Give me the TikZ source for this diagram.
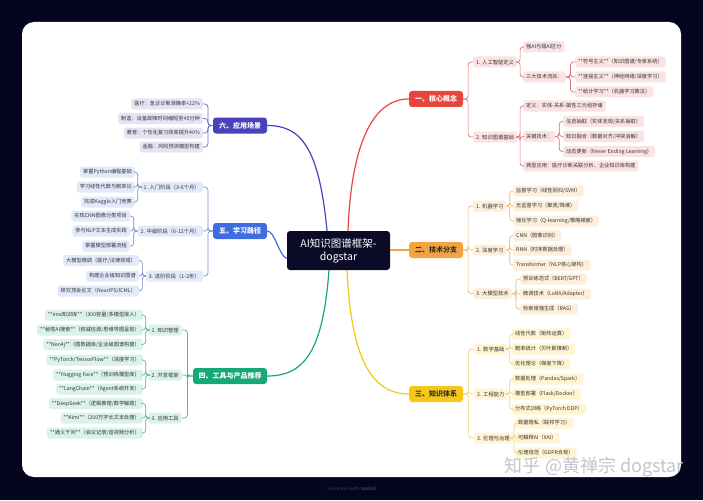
\documentclass[tikz,border=0pt]{standalone}
\usepackage{fontspec}
\setmainfont{Noto Sans CJK SC}
\usetikzlibrary{calc}
\definecolor{bgdark}{HTML}{05051E}
\definecolor{centerc}{HTML}{0B0B28}
\definecolor{txt}{HTML}{333333}
\definecolor{redm}{HTML}{E8453C}
\definecolor{redf}{HTML}{FBE3E3}
\definecolor{redl}{HTML}{E07070}
\definecolor{orm}{HTML}{F3A33F}
\definecolor{orf}{HTML}{FDEFDB}
\definecolor{orl}{HTML}{F2B870}
\definecolor{yem}{HTML}{F5C71A}
\definecolor{yef}{HTML}{FFF5D2}
\definecolor{yel}{HTML}{EDD672}
\definecolor{inm}{HTML}{4A41BC}
\definecolor{inf}{HTML}{E5E4F5}
\definecolor{inl}{HTML}{6C66B8}
\definecolor{blm}{HTML}{3F6DE0}
\definecolor{blf}{HTML}{E2E9FA}
\definecolor{bll}{HTML}{7F8CC8}
\definecolor{grm}{HTML}{17A878}
\definecolor{grf}{HTML}{DBF2E8}
\definecolor{grl}{HTML}{4DBB95}
\definecolor{wmark}{HTML}{C4C4CC}
\definecolor{foot}{HTML}{3C3C60}
\newcommand\linkR[3][]{\draw[#1] (#2.east) -- ($(#2.east)!0.5!(#2.east -| #3.west)$) |- (#3.west);}
\newcommand\linkL[3][]{\draw[#1] (#2.west) -- ($(#2.west)!0.5!(#2.west -| #3.east)$) |- (#3.east);}
\begin{document}
\begin{tikzpicture}[x=1pt,y=-1pt,
  lf/.style={font=\fontsize{5.2}{6}\selectfont, inner xsep=3pt, inner ysep=0pt, minimum height=11pt, rounded corners=2.5pt, text=txt},
  lv/.style={lf, font=\fontsize{5.3}{6}\selectfont},
  mainbox/.style={font=\fontsize{7}{8}\selectfont\bfseries, minimum height=16pt, minimum width=54pt, rounded corners=3pt, inner xsep=3pt},
  con/.style={line width=0.7pt, rounded corners=3pt},
  trunk/.style={line width=1.2pt}
]
\useasboundingbox (0,0) rectangle (703,500);
\fill[bgdark] (0,0) rectangle (703,500);
\fill[white, rounded corners=12pt] (22,22) rectangle (681,477);

% center
\node[fill=centerc, text=white, rounded corners=3pt, minimum width=103pt, minimum height=39pt, align=center, font=\fontsize{10.5}{13}\selectfont] (C) at (338.5,250.5) {AI知识图谱框架-\\dogstar};

% main branches
\node[mainbox, fill=redm, text=white] (R) at (436,99) {一、核心概念};
\node[mainbox, fill=orm, text=txt] (O) at (436,250) {二、技术分支};
\node[mainbox, fill=yem, text=txt] (Y) at (436,394) {三、知识体系};
\node[mainbox, fill=inm, text=white] (I) at (240,125.5) {六、应用场景};
\node[mainbox, fill=blm, text=white] (B) at (240,231) {五、学习路径};
\node[mainbox, fill=grm, text=white, minimum width=74pt] (G) at (230,376) {四、工具与产品推荐};

% trunk connectors
\draw[trunk, redm] ([xshift=9.5pt]C.north) .. controls +(3,-80) and (370,99) .. (R.west);
\draw[trunk, orm] (C.east |- O.west) -- (O.west);
\draw[trunk, yem] ([xshift=8.5pt]C.south) .. controls +(4,85) and (370,394) .. (Y.west);
\draw[trunk, inm] ([xshift=-11.5pt]C.north) .. controls +(-8,-85) and (300,125.5) .. (I.east);
\draw[trunk, blm] ([yshift=-8pt]C.west) .. controls +(-8,-3) and (275,231) .. (B.east);
\draw[trunk, grm] ([xshift=-9.5pt]C.south) .. controls +(-6,80) and (305,376) .. (G.east);

% ---------- red ----------
\begin{scope}[every node/.append style={fill=redf}]
\node[lv, anchor=west] (R1) at (473,62) {1. 人工智能定义};
\node[lv, anchor=west] (R2) at (473,137) {2. 知识图谱基础};
\node[lf, anchor=west] (R11) at (523,47) {强AI与弱AI区分};
\node[lf, anchor=west] (R12) at (523,77) {三大技术流派：};
\node[lf, anchor=west] (R121) at (575,62) {**符号主义**（知识图谱/专家系统）};
\node[lf, anchor=west] (R122) at (575,77) {**连接主义**（神经网络/深度学习）};
\node[lf, anchor=west] (R123) at (575,92) {**统计学习**（机器学习算法）};
\node[lf, anchor=west] (R21) at (523,106) {定义：实体-关系-属性三元组存储};
\node[lf, anchor=west] (R22) at (523,136.5) {关键技术：};
\node[lf, anchor=west] (R221) at (563,121.5) {信息抽取（实体发现/关系抽取）};
\node[lf, anchor=west] (R222) at (563,136.5) {知识融合（数据对齐/冲突消解）};
\node[lf, anchor=west] (R223) at (563,151.5) {动态更新（Never Ending Learning）};
\node[lf, anchor=west] (R23) at (523,166) {典型应用：医疗诊断关联分析、企业知识库构建};
\end{scope}
\foreach \c in {R1,R2} {\linkR[con,redl]{R}{\c}}
\foreach \c in {R11,R12} {\linkR[con,redl]{R1}{\c}}
\foreach \c in {R121,R122,R123} {\linkR[con,redl]{R12}{\c}}
\foreach \c in {R21,R22,R23} {\linkR[con,redl]{R2}{\c}}
\foreach \c in {R221,R222,R223} {\linkR[con,redl]{R22}{\c}}

% ---------- orange ----------
\begin{scope}[every node/.append style={fill=orf}]
\node[lv, anchor=west] (O1) at (473,206) {1. 机器学习};
\node[lv, anchor=west] (O2) at (473,250) {2. 深度学习};
\node[lv, anchor=west] (O3) at (473,293.5) {3. 大模型技术};
\node[lf, anchor=west] (O11) at (513,191) {监督学习（线性回归/SVM）};
\node[lf, anchor=west] (O12) at (513,206) {无监督学习（聚类/降维）};
\node[lf, anchor=west] (O13) at (513,221) {强化学习（Q-learning/策略梯度）};
\node[lf, anchor=west] (O21) at (513,235.5) {CNN（图像识别）};
\node[lf, anchor=west] (O22) at (513,250) {RNN（时序数据处理）};
\node[lf, anchor=west] (O23) at (513,265) {Transformer（NLP核心架构）};
\node[lf, anchor=west] (O31) at (520,279) {预训练范式（BERT/GPT）};
\node[lf, anchor=west] (O32) at (520,294) {微调技术（LoRA/Adapter）};
\node[lf, anchor=west] (O33) at (520,309) {检索增强生成（RAG）};
\end{scope}
\foreach \c in {O1,O2,O3} {\linkR[con,orl]{O}{\c}}
\foreach \c in {O11,O12,O13} {\linkR[con,orl]{O1}{\c}}
\foreach \c in {O21,O22,O23} {\linkR[con,orl]{O2}{\c}}
\foreach \c in {O31,O32,O33} {\linkR[con,orl]{O3}{\c}}

% ---------- yellow ----------
\begin{scope}[every node/.append style={fill=yef}]
\node[lv, anchor=west] (Y1) at (474,349) {1. 数学基础};
\node[lv, anchor=west] (Y2) at (474,394) {2. 工程能力};
\node[lv, anchor=west] (Y3) at (474,438) {3. 伦理与治理};
\node[lf, anchor=west] (Y11) at (512,334) {线性代数（矩阵运算）};
\node[lf, anchor=west] (Y12) at (512,349) {概率统计（贝叶斯推断）};
\node[lf, anchor=west] (Y13) at (512,364) {优化理论（梯度下降）};
\node[lf, anchor=west] (Y21) at (512,379) {数据处理（Pandas/Spark）};
\node[lf, anchor=west] (Y22) at (512,394) {模型部署（Flask/Docker）};
\node[lf, anchor=west] (Y23) at (512,409) {分布式训练（PyTorch DDP）};
\node[lf, anchor=west] (Y31) at (515,423) {数据隐私（联邦学习）};
\node[lf, anchor=west] (Y32) at (515,438) {可解释AI（XAI）};
\node[lf, anchor=west] (Y33) at (515,453) {伦理规范（GDPR合规）};
\end{scope}
\foreach \c in {Y1,Y2,Y3} {\linkR[con,yel]{Y}{\c}}
\foreach \c in {Y11,Y12,Y13} {\linkR[con,yel]{Y1}{\c}}
\foreach \c in {Y21,Y22,Y23} {\linkR[con,yel]{Y2}{\c}}
\foreach \c in {Y31,Y32,Y33} {\linkR[con,yel]{Y3}{\c}}

% ---------- indigo ----------
\begin{scope}[every node/.append style={fill=inf}]
\node[lf, anchor=east] (I1) at (203,104) {医疗：急诊诊断准确率+22\%};
\node[lf, anchor=east] (I2) at (203,118.5) {制造：设备故障时间缩短至45分钟};
\node[lf, anchor=east] (I3) at (203,133) {教育：个性化复习效率提升40\%};
\node[lf, anchor=east] (I4) at (203,147) {金融：风险预测模型构建};
\end{scope}
\foreach \c in {I1,I2,I3,I4} {\linkL[con,inl]{I}{\c}}

% ---------- blue ----------
\begin{scope}[every node/.append style={fill=blf}]
\node[lv, anchor=east] (B1) at (203,187) {1. 入门阶段（3-6个月）};
\node[lv, anchor=east] (B2) at (203,231) {2. 中级阶段（6-12个月）};
\node[lv, anchor=east] (B3) at (203,276) {3. 进阶阶段（1-2年）};
\node[lf, anchor=east] (B11) at (135,172) {掌握Python编程基础};
\node[lf, anchor=east] (B12) at (135,187) {学习线性代数与概率论};
\node[lf, anchor=east] (B13) at (135,202) {完成Kaggle入门竞赛};
\node[lf, anchor=east] (B21) at (130,216) {实现CNN图像分类项目};
\node[lf, anchor=east] (B22) at (130,231) {参与NLP文本生成实践};
\node[lf, anchor=east] (B23) at (130,246) {掌握模型部署流程};
\node[lf, anchor=east] (B31) at (139,260.5) {大模型微调（医疗/法律领域）};
\node[lf, anchor=east] (B32) at (139,276) {构建企业级知识图谱};
\node[lf, anchor=east] (B33) at (139,291) {研究顶会论文（NeurIPS/ICML）};
\end{scope}
\foreach \c in {B1,B2,B3} {\linkL[con,bll]{B}{\c}}
\foreach \c in {B11,B12,B13} {\linkL[con,bll]{B1}{\c}}
\foreach \c in {B21,B22,B23} {\linkL[con,bll]{B2}{\c}}
\foreach \c in {B31,B32,B33} {\linkL[con,bll]{B3}{\c}}

% ---------- green ----------
\begin{scope}[every node/.append style={fill=grf}]
\node[lv, anchor=east] (G1) at (182,330) {1. 知识管理};
\node[lv, anchor=east] (G2) at (182,375) {2. 开发框架};
\node[lv, anchor=east] (G3) at (182,418) {3. 应用工具};
\node[lf, anchor=east] (G11) at (143,315) {**ima知识库**（300容量/多模型接入）};
\node[lf, anchor=east] (G12) at (143,330) {**秘塔AI搜索**（权威信源/思维导图呈现）};
\node[lf, anchor=east] (G13) at (143,344.5) {**Neo4j**（图数据库/企业级图谱构建）};
\node[lf, anchor=east] (G21) at (143,360) {**PyTorch/TensorFlow**（深度学习）};
\node[lf, anchor=east] (G22) at (143,375) {**Hugging Face**（预训练模型库）};
\node[lf, anchor=east] (G23) at (143,389) {**LangChain**（Agent系统开发）};
\node[lf, anchor=east] (G31) at (143,403.5) {**DeepSeek**（逻辑推理/数学解题）};
\node[lf, anchor=east] (G32) at (143,418) {**Kimi**（200万字长文本处理）};
\node[lf, anchor=east] (G33) at (143,433) {**通义千问**（会议记录/音视频分析）};
\end{scope}
\foreach \c in {G1,G2,G3} {\linkL[con,grl]{G}{\c}}
\foreach \c in {G11,G12,G13} {\linkL[con,grl]{G1}{\c}}
\foreach \c in {G21,G22,G23} {\linkL[con,grl]{G2}{\c}}
\foreach \c in {G31,G32,G33} {\linkL[con,grl]{G3}{\c}}

% watermark and footer
\node[anchor=east, inner sep=0pt, text=wmark, font=\fontsize{18}{18}\selectfont] (wm) at (684,467) {知乎 @黄禅宗 dogstar};
\node[inner sep=0pt, text=foot, font=\fontsize{4.6}{5}\selectfont] (ft) at (351.5,489) {Presented with \textbf{xmind}};
\end{tikzpicture}
\end{document}
